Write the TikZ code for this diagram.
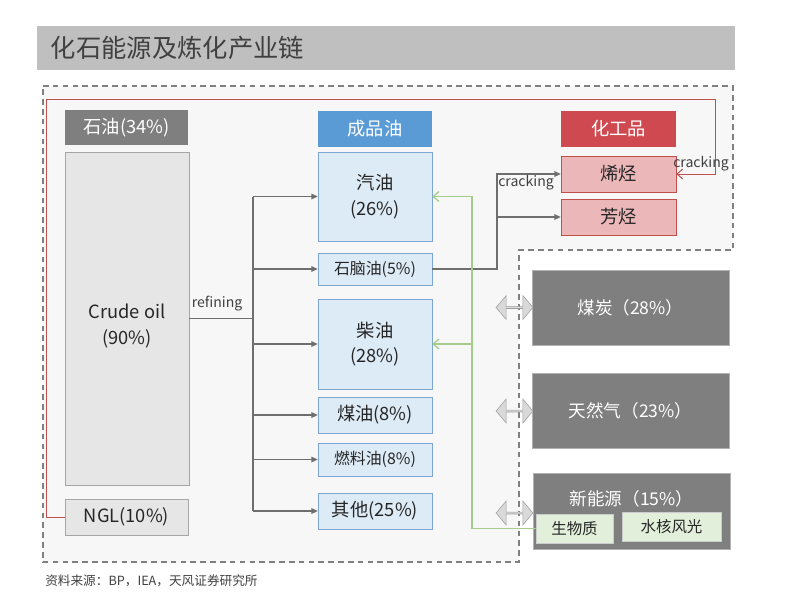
\documentclass[tikz,border=0pt]{standalone}
\usepackage{fontspec}
\setmainfont{Noto Sans CJK SC}
\usetikzlibrary{arrows.meta,shapes.arrows}

\definecolor{titlegray}{HTML}{BFBFBF}
\definecolor{textgray}{HTML}{404040}
\definecolor{areagray}{HTML}{F7F7F7}
\definecolor{dashgray}{HTML}{808080}
\definecolor{darkgray}{HTML}{7F7F7F}
\definecolor{linegray}{HTML}{6E6E6E}
\definecolor{crudefill}{HTML}{E6E6E6}
\definecolor{bluehead}{HTML}{5B9BD5}
\definecolor{bluefill}{HTML}{DDEBF7}
\definecolor{blueline}{HTML}{7EA6D3}
\definecolor{redhead}{HTML}{CF4A50}
\definecolor{pinkfill}{HTML}{EBB7B9}
\definecolor{redline}{HTML}{C0504D}
\definecolor{greenline}{HTML}{A3CD88}
\definecolor{greenfill}{HTML}{E2EFDA}
\definecolor{arrowfill}{HTML}{D9D9D9}

\tikzset{
  hdr/.style={minimum width=2.85cm, minimum height=0.9cm, text=white, font=\fontsize{13}{15}\selectfont},
  oilbox/.style={draw=gray!70, fill=crudefill, align=center, text=black!85, font=\fontsize{13}{18}\selectfont},
  prod/.style={draw=blueline, fill=bluefill, minimum width=2.85cm, align=center, text=black!85, font=\fontsize{13}{18}\selectfont},
  prodsmall/.style={prod, font=\fontsize{11.3}{13}\selectfont},
  chem/.style={draw=redline, fill=pinkfill, minimum width=2.875cm, minimum height=0.9cm, text=black!85, font=\fontsize{13}{15}\selectfont},
  source/.style={draw=gray!60, fill=darkgray, minimum width=4.925cm, text=white, font=\fontsize{12.5}{14}\selectfont},
  sub/.style={draw=gray!40, fill=greenfill, minimum height=0.725cm, text=black!85, font=\fontsize{11}{13}\selectfont},
  lbl/.style={inner sep=0pt, text=textgray, font=\fontsize{10}{12}\selectfont},
  twoway/.style={double arrow, draw=gray!75, fill=arrowfill, minimum height=0.92cm, minimum width=0.6cm, double arrow head extend=0.08cm, double arrow tip angle=100, inner sep=0pt},
  feed/.style={draw=linegray, line width=0.9pt},
  grn/.style={draw=greenline, line width=0.9pt, -{Straight Barb[length=4pt,width=7pt]}},
  red/.style={draw=redline, line width=0.7pt, -{Straight Barb[length=4pt,width=7pt]}}
}

\begin{document}
\begin{tikzpicture}[x=0.025cm, y=-0.025cm, >={Triangle[length=4.5pt,width=4pt]}]
\useasboundingbox (0,0) rectangle (800,600);

% title bar
\fill[titlegray] (37,26) rectangle (735,70);
\node[anchor=west, text=textgray, font=\fontsize{18}{20}\selectfont] (title) at (46,48) {化石能源及炼化产业链};

% oil area
\draw[dashgray, fill=areagray, dash pattern=on 4pt off 3pt, line width=0.8pt]
  (43,86) -- (733,86) -- (733,250) -- (519,250) -- (519,562) -- (43,562) -- cycle;

% crude side
\node[hdr, fill=darkgray, minimum width=3.075cm, minimum height=0.875cm] (oilhead) at (126.5,127.5) {石油(34\%)};
\node[oilbox, minimum width=3.1cm, minimum height=8.325cm] (crude) at (127,318.5) {};
\node[oilbox, draw=none, fill=none] (crudelbl) at (127,326) {Crude oil\\(90\%)};
\node[oilbox, minimum width=3.075cm, minimum height=0.9cm] (ngl) at (126.5,517) {NGL(10\%)};

% products
\node[hdr, fill=bluehead] (prodhead) at (375,129) {成品油};
\node[prod, minimum height=2.225cm] (gasoline) at (375,196.5) {汽油\\(26\%)};
\node[prodsmall, minimum height=0.8cm] (naphtha) at (375,269) {石脑油(5\%)};
\node[prod, minimum height=2.25cm] (diesel) at (375,344) {柴油\\(28\%)};
\node[prod, minimum height=0.9cm] (kerosene) at (375,415) {煤油(8\%)};
\node[prodsmall, minimum height=0.825cm] (fueloil) at (375,459.5) {燃料油(8\%)};
\node[prod, minimum height=0.9cm] (other) at (375,511) {其他(25\%)};

% chemicals
\node[hdr, fill=redhead, minimum width=2.875cm] (chemhead) at (618.5,129) {化工品};
\node[chem] (olefin) at (618.5,174) {烯烃};
\node[chem] (aromatic) at (618.5,217) {芳烃};

% other energy
\node[source, minimum height=1.875cm] (coal) at (630.5,307.5) {煤炭（28\%）};
\node[source, minimum height=1.875cm] (gas) at (630.5,411) {天然气（23\%）};
\node[source, minimum height=1.9cm] (newe) at (631.5,511) {};
\node[text=white, font=\fontsize{12.5}{14}\selectfont] (newelbl) at (631.5,499) {新能源（15\%）};
\node[sub, minimum width=1.925cm] (bio) at (574.5,528.5) {生物质};
\node[sub, minimum width=2.475cm] (wind) at (671.5,526.5) {水核风光};

% refining
\coordinate (rf) at (253,318.5);
\draw[feed] (crude.east) -- (rf);
\node[lbl] (reflbl) at (217,304) {refining};
\draw[feed] (rf |- gasoline.west) -- (rf |- other.west);
\foreach \n in {gasoline,naphtha,diesel,kerosene,fueloil,other}
  \draw[feed,->] (rf |- \n.west) -- (\n.west);

% cracking of naphtha
\coordinate (ck) at (497,269);
\draw[feed,->] (naphtha.east) -- (ck) |- (olefin.west);
\draw[feed,->] (ck |- aromatic.west) -- (aromatic.west);
\node[lbl] (cklbl) at (526,183) {cracking};

% NGL to olefins
\draw[red] (ngl.west) -- ++(-18,0) |- (715,99) |- (olefin.east);
\node[lbl] (ngllbl) at (701,164) {cracking};

% biomass to fuels
\coordinate (gx) at (472,528.5);
\draw[grn] (bio.west) -- (gx) |- (gasoline.east);
\draw[grn] (gx |- diesel.east) -- (diesel.east);

% substitution
\node[twoway] (sw1) at (514.5,307.5) {};
\node[twoway] (sw2) at (514.5,411) {};
\node[twoway] (sw3) at (514.5,513) {};

% source note
\node[anchor=west, inner sep=0pt, text=textgray, font=\fontsize{9}{11}\selectfont] (note) at (45,581) {资料来源：BP，IEA，天风证券研究所};
\end{tikzpicture}
\end{document}
